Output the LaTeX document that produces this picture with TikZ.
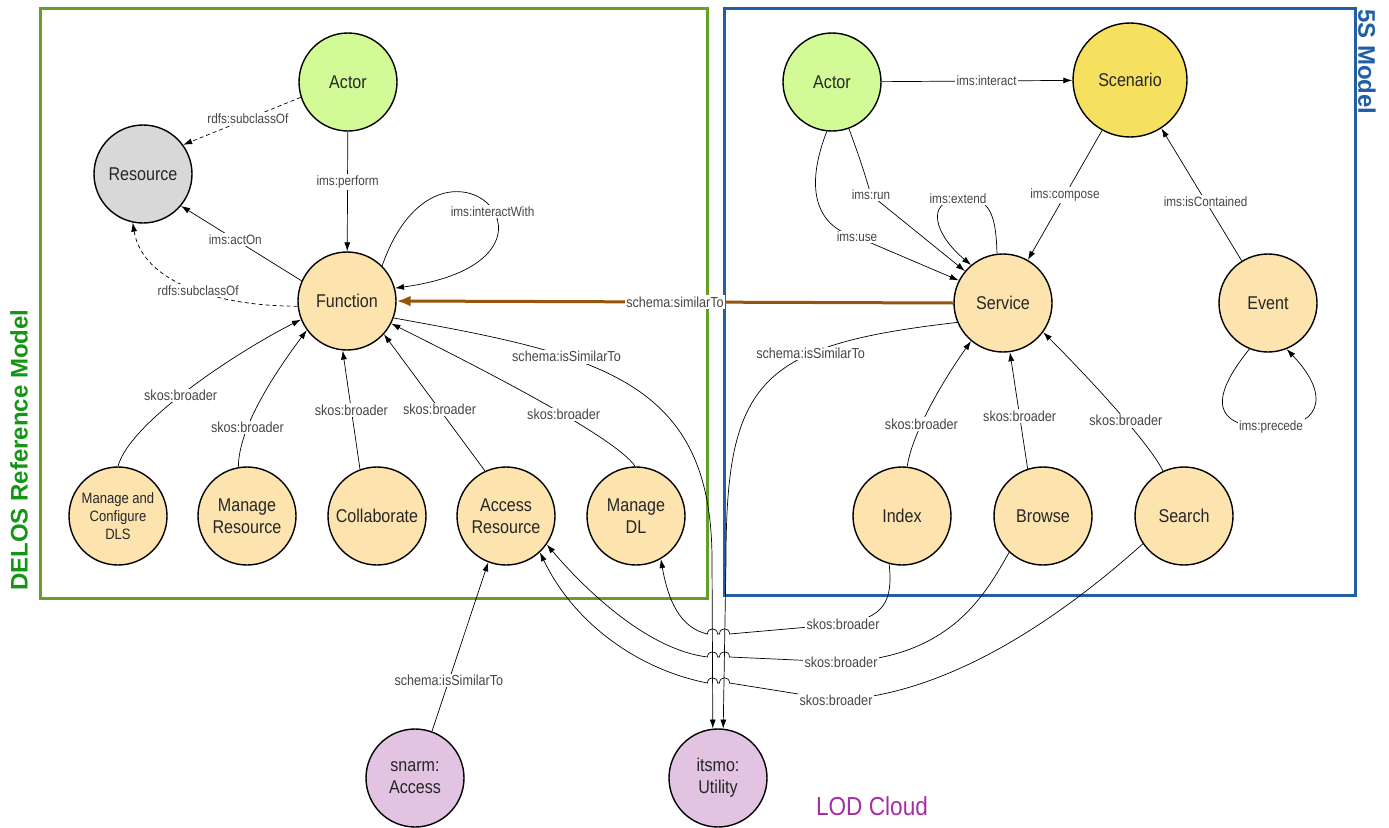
\documentclass[tikz,border=0pt]{standalone}
\usepackage{fontspec}
\setmainfont{Liberation Sans}
\newfontfamily\condf{Liberation Sans}[FakeStretch=0.87]
\usetikzlibrary{arrows.meta}
\definecolor{actorG}{RGB}{210,250,150}
\definecolor{resG}{RGB}{216,216,216}
\definecolor{funO}{RGB}{253,228,175}
\definecolor{scenY}{RGB}{245,225,95}
\definecolor{lodP}{RGB}{226,196,226}
\definecolor{frameG}{RGB}{100,160,40}
\definecolor{frameB}{RGB}{35,95,160}
\definecolor{delosG}{RGB}{20,150,20}
\definecolor{fiveB}{RGB}{30,95,165}
\definecolor{brownA}{RGB}{150,85,10}
\definecolor{lodT}{RGB}{165,45,165}
\definecolor{lblT}{RGB}{70,70,70}
\begin{document}
\begin{tikzpicture}[x=1pt,y=-1pt,
  nd/.style={circle,draw=black,line width=1.4pt,minimum size=98pt,inner sep=0pt,align=center,
     font=\condf\fontsize{18.5}{22}\selectfont,text=black!85,fill=funO},
  lbl/.style={fill=white,inner sep=1.5pt,font=\condf\fontsize{13.5}{15}\selectfont,text=lblT},
  lblb/.style={fill=white,inner sep=1.5pt,font=\condf\fontsize{14.5}{16}\selectfont,text=lblT},
  ar/.style={-{Latex[length=9pt,width=6pt]},line width=0.7pt,draw=black},
  dsh/.style={dash pattern=on 4pt off 3pt},
  frame/.style={line width=3pt}
]
\useasboundingbox (0,0) rectangle (1389,827);
% frames
\draw[frame,draw=frameG] (40,8) rectangle (707,598);
\draw[frame,draw=frameB] (724,8) rectangle (1355,595);
\node[rotate=90,text=delosG,font=\fontsize{24}{28}\selectfont\bfseries] (delos) at (19,450) {DELOS Reference Model};
\node[rotate=-90,text=fiveB,font=\fontsize{24}{28}\selectfont\bfseries] (fives) at (1367,62) {5S Model};
\node[text=lodT,font=\condf\fontsize{26}{28}\selectfont] (lod) at (872,806) {LOD Cloud};

% left nodes
\node[nd,fill=actorG] (LA) at (348,82) {Actor};
\node[nd,fill=resG] (R) at (143,174) {Resource};
\node[nd] (F) at (347,301) {Function};
\node[nd,font=\condf\fontsize{15}{18}\selectfont] (M1) at (118,516) {Manage and\\Configure\\DLS};
\node[nd] (M2) at (247,516) {Manage\\Resource};
\node[nd] (Col) at (377,516) {Collaborate};
\node[nd] (AR) at (506,516) {Access\\Resource};
\node[nd] (MDL) at (636,516) {Manage\\DL};
% right nodes
\node[nd,fill=actorG] (RA) at (832,82) {Actor};
\node[nd,fill=scenY,minimum size=114pt] (Sc) at (1130,80) {Scenario};
\node[nd] (S) at (1003,303) {Service};
\node[nd] (E) at (1268,303) {Event};
\node[nd] (I) at (902,516) {Index};
\node[nd] (B) at (1043,516) {Browse};
\node[nd] (Se) at (1184,516) {Search};
% LOD nodes
\node[nd,fill=lodP] (SA) at (415,778) {snarm:\\Access};
\node[nd,fill=lodP] (U) at (718,778) {itsmo:\\Utility};

% left edges
\draw[ar,dsh] (LA.198) -- node[lbl,pos=0.45]{rdfs:subclassOf} (R.36);
\draw[ar] (LA) -- node[lbl,pos=0.42]{ims:perform} (F);
\draw[ar] (F.156) -- node[lbl,pos=0.55]{ims:actOn} (R.320);
\draw[ar,dsh] (F.186) .. controls +(-80,0) and +(10,60) .. node[lbl,pos=0.45]{rdfs:subclassOf} (R.258);
\draw[ar] (F.45) .. controls (440,100) and (600,260) .. node[lbl,pos=0.55]{ims:interactWith} (F.15);
\draw[ar] (M1.90) .. controls +(12,-45) and +(-60,30) .. node[lblb,pos=0.45]{skos:broader} (F.202);
\draw[ar] (M2.100) .. controls +(0,-40) and +(-30,40) .. node[lblb,pos=0.3]{skos:broader} (F.216);
\draw[ar] (Col.110) -- node[lblb]{skos:broader} (F.265);
\draw[ar] (AR.115) -- node[lblb,pos=0.45]{skos:broader} (F.318);
\draw[ar] (MDL.91) .. controls +(-20,-30) and +(80,40) .. node[lblb,pos=0.4]{skos:broader} (F.333);
\draw[ar] (F.340) .. controls (600,355) and (712,380) .. node[lblb,pos=0.33]{schema:isSimilarTo} (712,560) -- (U.96);
\draw[-{Latex[length=14pt,width=11pt]},line width=3pt,draw=brownA] (S.west) -- node[lblb]{schema:similarTo} (F.east);

% right edges
\draw[ar] (RA) -- node[lbl,pos=0.55]{ims:interact} (Sc);
\draw[ar] (RA.264) .. controls (800,200) and (825,230) .. (857,237) node[lbl]{ims:use} -- (S.153);
\draw[ar] (RA.290) .. controls (862,165) .. (871,195) node[lbl]{ims:run} -- (S.140);
\draw[ar] (S.97) .. controls (996,205) and (985,197) .. (958,199) node[lbl]{ims:extend} .. controls (925,202) and (935,235) .. (S.130);
\draw[ar] (Sc.241) -- node[lbl]{ims:compose} (S.60);
\draw[ar] (E.122) -- node[lbl,pos=0.45]{ims:isContained} (Sc.303);
\draw[ar] (E.248) .. controls (1200,410) and (1225,428) .. (1271,427) node[lbl]{ims:precede} .. controls (1315,428) and (1335,400) .. (E.292);
\draw[ar] (I.84) .. controls +(5,-35) and +(-25,35) .. node[lblb,pos=0.35]{skos:broader} (S.230);
\draw[ar] (B.108) -- node[lblb,pos=0.45]{skos:broader} (S.278);
\draw[ar] (Se.115) .. controls +(-15,-30) and +(40,40) .. node[lblb,pos=0.4]{skos:broader} (S.324);
\draw[ar] (S.203) .. controls (760,345) and (726,380) .. node[lblb,pos=0.33]{schema:isSimilarTo} (726,560) -- (U.84);

% cross edges with jumps
\draw[ar] (I.255) .. controls (893,600) and (885,618) .. (843,624) node[lblb]{skos:broader}
  -- (729.5,634) .. controls +(0,-7) and +(0,-7) .. (719.5,634) -- (717.5,634)
  .. controls +(0,-7) and +(0,-7) .. (707.5,634) .. controls (680,628) and (668,600) .. (MDL.300);
\draw[ar] (B.227) .. controls (985,595) and (950,658) .. (841,662) node[lblb]{skos:broader}
  -- (729.5,657) .. controls +(0,-7) and +(0,-7) .. (719.5,657) -- (717.5,657)
  .. controls +(0,-7) and +(0,-7) .. (707.5,657) .. controls (650,650) and (590,595) .. (AR.325);
\draw[ar] (Se.214) .. controls (1080,600) and (960,695) .. (836,700) node[lblb]{skos:broader}
  -- (729.5,683) .. controls +(0,-7) and +(0,-7) .. (719.5,683) -- (717.5,683)
  .. controls +(0,-7) and +(0,-7) .. (707.5,683) .. controls (640,670) and (575,625) .. (AR.313);
\draw[ar] (SA.70) -- node[lblb,pos=0.3]{schema:isSimilarTo} (AR.249);
\end{tikzpicture}
\end{document}
